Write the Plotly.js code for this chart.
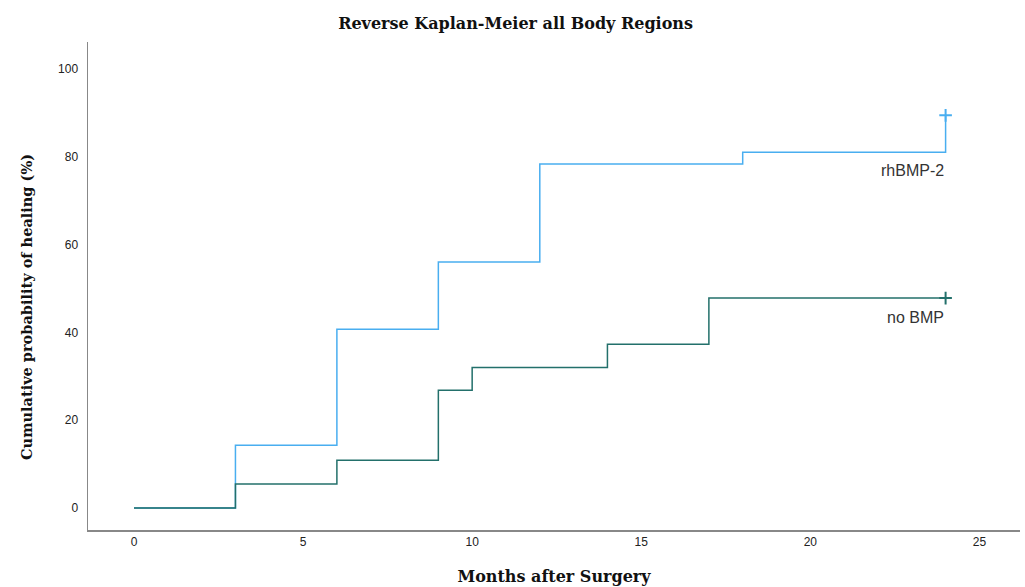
<!DOCTYPE html>
<html><head><meta charset="utf-8">
<script src="https://cdn.plot.ly/plotly-3.0.1.min.js"></script>
<style>html,body{margin:0;padding:0;background:#fff}#chart{width:1025px;height:587px}</style>
</head><body><div id="chart"></div>
<script>
const rhTime = [0, 3, 6, 9, 12, 18, 24];
const rhValue = [0, 14.3, 40.7, 56.0, 78.3, 81.0, 89.4];
const noTime = [0, 3, 6, 9, 10, 14, 17, 24];
const noValue = [0, 5.5, 10.9, 26.8, 32.0, 37.3, 47.8, 47.8];
const censorRh = {x: [24], y: [89.4]};
const censorNo = {x: [24], y: [47.8]};
const xTicks = [0, 5, 10, 15, 20, 25];
const yTicks = [0, 20, 40, 60, 80, 100];

const cRh = '#49aef0', cNo = '#23706b';
const traces = [
  {x: rhTime, y: rhValue, mode: 'lines', line: {shape: 'hv', color: cRh, width: 1.5}, hoverinfo: 'none'},
  {x: noTime, y: noValue, mode: 'lines', line: {shape: 'hv', color: cNo, width: 1.5}, hoverinfo: 'none'},
  {x: censorRh.x, y: censorRh.y, mode: 'markers', marker: {symbol: 'cross-thin', size: 9, line: {color: cRh, width: 2}}},
  {x: censorNo.x, y: censorNo.y, mode: 'markers', marker: {symbol: 'cross-thin', size: 9, line: {color: cNo, width: 2}}}
];
const serif = 'DejaVu Serif, serif';
const layout = {
  width: 1025, height: 587,
  margin: {l: 88, r: 5, t: 42, b: 57},
  paper_bgcolor: '#fff', plot_bgcolor: '#fff',
  showlegend: false,
  title: {text: 'Reverse Kaplan-Meier all Body Regions', x: 0.503, xanchor: 'center', y: 0.96, yanchor: 'middle',
          font: {family: serif, size: 16, color: '#111', weight: 600}},
  xaxis: {range: [-1.36, 26.2], tickvals: xTicks, ticktext: xTicks.map(String), showgrid: false, zeroline: false,
          showline: true, linecolor: '#888', linewidth: 1.5, ticks: '', ticklen: 0,
          tickfont: {family: 'Liberation Sans, Arial, sans-serif', size: 12, color: '#222'},
          title: {text: 'Months after Surgery', standoff: 23, font: {family: serif, size: 16, color: '#111', weight: 600}}},
  yaxis: {range: [-5, 106.1], tickvals: yTicks, ticktext: yTicks.map(String), showgrid: false, zeroline: false,
          showline: true, linecolor: '#888', linewidth: 1.5, ticks: '', ticklen: 0, ticklabelstandoff: 6,
          tickfont: {family: 'Liberation Sans, Arial, sans-serif', size: 12, color: '#222'}},
  annotations: [
    {x: -0.0655, y: 0.457, xref: 'paper', yref: 'paper', text: 'Cumulative probability of healing (%)', textangle: -90,
     showarrow: false, xanchor: 'center', yanchor: 'middle',
     font: {family: serif, size: 14.5, color: '#111', weight: 600}},
    {x: 24, y: 76.8, xref: 'x', yref: 'y', text: 'rhBMP-2', showarrow: false, xanchor: 'right', yanchor: 'middle',
     font: {family: 'Liberation Sans, Arial, sans-serif', size: 16, color: '#333'}},
    {x: 24, y: 43.3, xref: 'x', yref: 'y', text: 'no BMP', showarrow: false, xanchor: 'right', yanchor: 'middle',
     font: {family: 'Liberation Sans, Arial, sans-serif', size: 16, color: '#333'}}
  ]
};
Plotly.newPlot('chart', traces, layout, {displayModeBar: false, staticPlot: true});
</script></body></html>
